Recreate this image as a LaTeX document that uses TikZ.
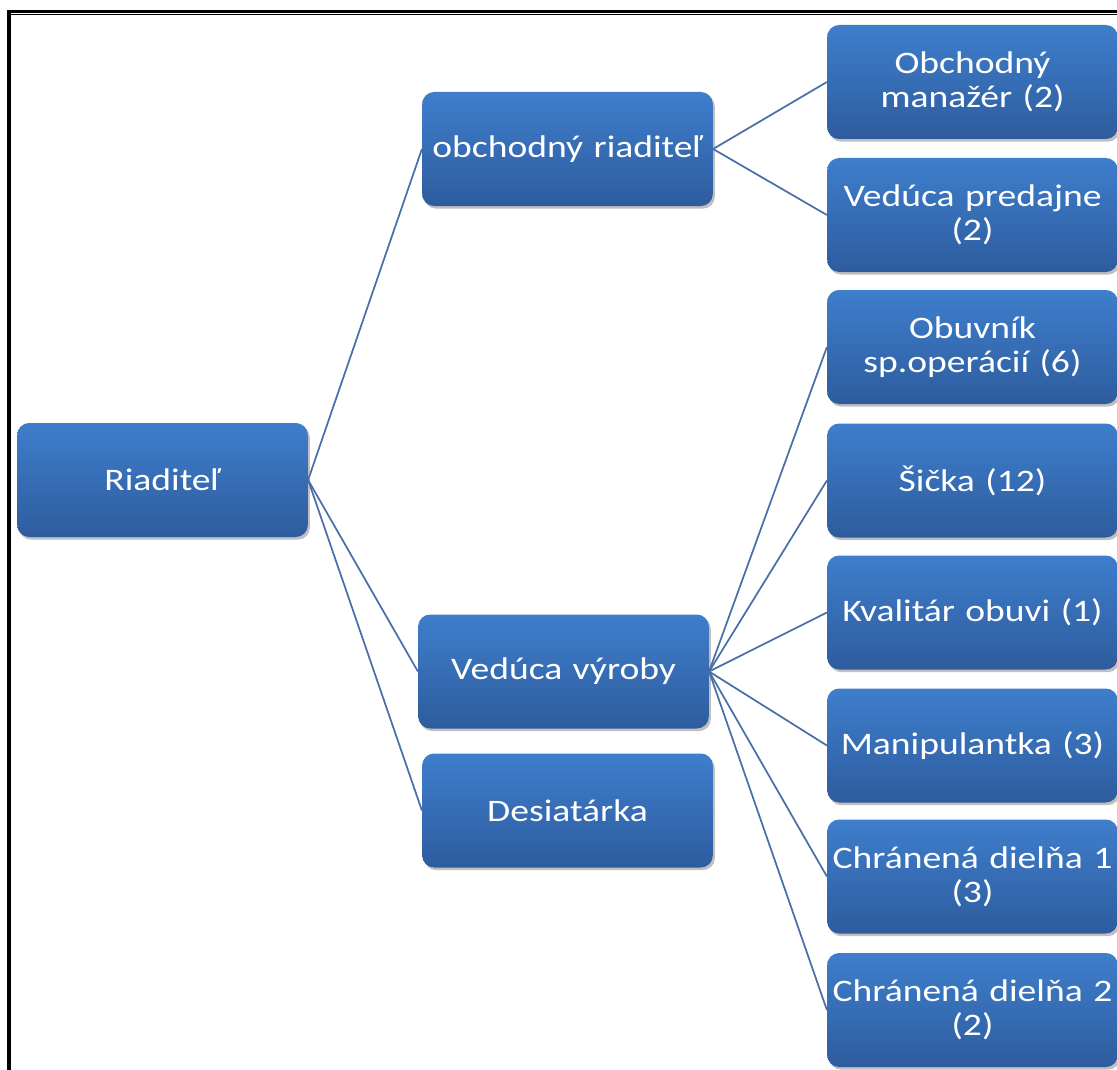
\documentclass[tikz,border=0pt]{standalone}
\usepackage{fontspec}
\setmainfont{Carlito}[FakeStretch=1.2]
\usepackage{tikz}
\usetikzlibrary{shadows}

\definecolor{boxtop}{RGB}{62,126,204}
\definecolor{boxbot}{RGB}{46,92,158}
\definecolor{linkcol}{RGB}{74,110,168}

\begin{document}
\begin{tikzpicture}[x=0.75pt,y=0.75pt,yscale=-1,xscale=1,
  orgbox/.style={rounded corners=9pt,top color=boxtop,bottom color=boxbot,draw=none,
    minimum width=216.75pt,minimum height=85.5pt,inner sep=2pt,text width=214pt,align=center,
    text=white,font=\fontsize{23.5}{25.5}\selectfont,
    drop shadow={shadow xshift=1.5pt,shadow yshift=-2pt,opacity=0.25,fill=black}},
  link/.style={draw=linkcol,line width=1.3pt}]
\useasboundingbox (0,0) rectangle (1117,1070);
%Frame
\fill (7,10) rectangle (1117,13) ;
\fill (11,14) rectangle (1117,15.5) ;
\fill (7,10) rectangle (11,1070) ;
% Text Node
\node [orgbox] (riad) at (162.5,480) {Riaditeľ};
% Text Node
\node [orgbox] (obch) at (567.5,149) {obchodný riaditeľ};
% Text Node
\node [orgbox] (vyroba) at (563.5,671.5) {Vedúca výroby};
% Text Node
\node [orgbox] (desiat) at (567.5,810.5) {Desiatárka};
% Text Node
\node [orgbox] (manazer) at (972.5,82) {Obchodný\\manažér (2)};
% Text Node
\node [orgbox] (predajna) at (972.5,215) {Vedúca predajne\\(2)};
% Text Node
\node [orgbox] (obuvnik) at (972.5,347) {Obuvník\\sp.operácií (6)};
% Text Node
\node [orgbox] (sicka) at (972.5,480.5) {Šička (12)};
% Text Node
\node [orgbox] (kvalitar) at (972.5,612.5) {Kvalitár obuvi (1)};
% Text Node
\node [orgbox] (manip) at (972.5,745.5) {Manipulantka (3)};
% Text Node
\node [orgbox] (dielna1) at (972.5,876.5) {Chránená dielňa 1\\(3)};
% Text Node
\node [orgbox] (dielna2) at (972.5,1010) {Chránená dielňa 2\\(2)};
%Straight Lines
\foreach \t in {obch,vyroba,desiat}
  \draw [link] (riad.east) -- (\t.west) ;
%Straight Lines
\foreach \t in {manazer,predajna}
  \draw [link] (obch.east) -- (\t.west) ;
%Straight Lines
\foreach \t in {obuvnik,sicka,kvalitar,manip,dielna1,dielna2}
  \draw [link] (vyroba.east) -- (\t.west) ;
\end{tikzpicture}
\end{document}
